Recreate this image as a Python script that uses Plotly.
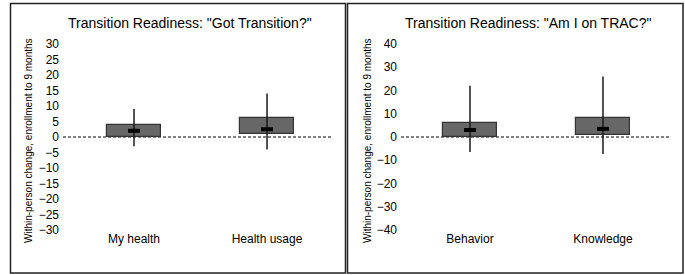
import plotly.graph_objects as go

W, H = 685, 275

# ---- data ----
left_title = 'Transition Readiness: "Got Transition?"'
left_categories = ["My health", "Health usage"]
left_q1 = [0, 1]
left_median = [2, 2.5]
left_q3 = [4, 6]
left_low = [-3, -4]
left_high = [9, 14]
left_ticks = [30, 25, 20, 15, 10, 5, 0, -5, -10, -15, -20, -25, -30]

right_title = 'Transition Readiness: "Am I on TRAC?"'
right_categories = ["Behavior", "Knowledge"]
right_q1 = [0, 1]
right_median = [3, 3.5]
right_q3 = [6, 8]
right_low = [-6.5, -7.3]
right_high = [22, 26]
right_ticks = [40, 30, 20, 10, 0, -10, -20, -30, -40]

y_title = "Within-person change, enrollment to 9 months"

FONT = "Arial, Liberation Sans, sans-serif"
BOX_FILL = "#676767"
BOX_LINE = "#333333"


def px_x(p):
    return p / W


def px_y(p):
    return 1 - p / H


fig = go.Figure()


def add_panel(xa, ya, cats, q1, med, q3, low, high):
    xs = list(range(len(cats)))
    # whiskers
    for i in xs:
        fig.add_trace(go.Scatter(x=[i, i], y=[low[i], high[i]], mode="lines",
                                 line=dict(color="#1a1a1a", width=1.5),
                                 xaxis=xa, yaxis=ya, showlegend=False, hoverinfo="skip"))
    # boxes
    fig.add_trace(go.Bar(x=xs, y=[q3[i] - q1[i] for i in xs], base=q1, width=0.405,
                         marker=dict(color=BOX_FILL, line=dict(color=BOX_LINE, width=1.2)),
                         xaxis=xa, yaxis=ya, showlegend=False, hoverinfo="skip"))
    # medians
    for i in xs:
        fig.add_trace(go.Scatter(x=[i - 0.045, i + 0.045], y=[med[i], med[i]], mode="lines",
                                 line=dict(color="black", width=4),
                                 xaxis=xa, yaxis=ya, showlegend=False, hoverinfo="skip"))


add_panel("x", "y", left_categories, left_q1, left_median, left_q3, left_low, left_high)
add_panel("x2", "y2", right_categories, right_q1, right_median, right_q3, right_low, right_high)

ydom = [px_y(230), px_y(44)]
tickfont = dict(family=FONT, size=12, color="black")
common = dict(showgrid=False, zeroline=False, showline=False, ticks="", automargin=False, tickfont=tickfont)

fig.update_layout(
    template="none",
    width=W, height=H,
    margin=dict(l=0, r=0, t=0, b=0, pad=0, autoexpand=False),
    paper_bgcolor="white", plot_bgcolor="white",
    bargap=0,
    xaxis=dict(domain=[px_x(63), px_x(333)], range=[-0.534, 1.496],
               tickvals=[0, 1], ticktext=left_categories, anchor="y", **common),
    yaxis=dict(domain=ydom, range=[-30, 30], tickvals=left_ticks, anchor="x",
               ticklabelstandoff=3, **common),
    xaxis2=dict(domain=[px_x(401), px_x(670)], range=[-0.519, 1.504],
                tickvals=[0, 1], ticktext=right_categories, anchor="y2", **common),
    yaxis2=dict(domain=ydom, range=[-40, 40], tickvals=right_ticks, anchor="x2",
                ticklabelstandoff=3, **common),
)

# zero dashed lines
for xr, yr in (("x domain", "y"), ("x2 domain", "y2")):
    fig.add_shape(type="line", xref=xr, yref=yr, x0=0, x1=1, y0=0, y1=0,
                  line=dict(color="black", width=1, dash="3px,2px"), layer="below")

# panel borders
fig.add_shape(type="rect", xref="paper", yref="paper", x0=px_x(10.5), x1=px_x(345.5),
              y0=px_y(273), y1=px_y(3.5), line=dict(color="#222", width=1.5))
fig.add_shape(type="rect", xref="paper", yref="paper", x0=px_x(347.5), x1=px_x(683),
              y0=px_y(273), y1=px_y(3.5), line=dict(color="#222", width=1.5))

# titles
for txt, cx in ((left_title, 190), (right_title, 528)):
    fig.add_annotation(text=txt, xref="paper", yref="paper", x=px_x(cx), y=px_y(23),
                       showarrow=False, xanchor="center", yanchor="middle",
                       font=dict(family=FONT, size=14, color="black"))

# y titles
for cx in (28, 367):
    fig.add_annotation(text=y_title, xref="paper", yref="paper", x=px_x(cx), y=px_y(141),
                       showarrow=False, textangle=-90, xanchor="center", yanchor="middle",
                       font=dict(family=FONT, size=10, color="black"))

fig.write_html(
    "out.html",
    config={"displayModeBar": False},
    post_script="document.body.style.margin='0';document.body.style.overflow='hidden';",
)
